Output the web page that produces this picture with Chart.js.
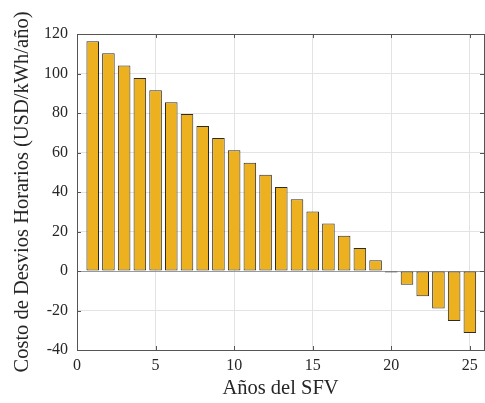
<!DOCTYPE html>
<html>
<head>
<meta charset="utf-8">
<script src="https://cdn.jsdelivr.net/npm/chart.js@4/dist/chart.umd.min.js"></script>
<style>
  html, body { margin: 0; padding: 0; background: #fff; }
  #wrap { width: 485px; height: 403px; }
</style>
</head>
<body>
<div id="wrap"><canvas id="myChart" width="485" height="403"></canvas></div>
<script>
const years = [1, 2, 3, 4, 5, 6, 7, 8, 9, 10, 11, 12, 13, 14, 15, 16, 17, 18, 19, 20, 21, 22, 23, 24, 25];
const costs = [116.3, 110.2, 104, 97.7, 91.5, 85.4, 79.5, 73.4, 67.3, 61.1, 54.8, 48.7, 42.5,
               36.3, 30.1, 24, 17.8, 11.7, 5.5, -0.8, -7, -12.8, -19, -25.3, -31.4];
const xTicks = [0, 5, 10, 15, 20, 25];
const yTicks = [-40, -20, 0, 20, 40, 60, 80, 100, 120];

const serif = "'Liberation Serif', 'Times New Roman', serif";
const textColor = '#262626';

// MATLAB-like box with inward ticks
const boxPlugin = {
    id: 'box',
    afterDatasetsDraw(chart) {
        const {ctx, chartArea: a, scales: {x, y}} = chart;
        ctx.save();
        ctx.strokeStyle = '#555';
        ctx.lineWidth = 1;
        ctx.beginPath();
        xTicks.forEach(v => {
            const px = Math.round(x.getPixelForValue(v)) + 0.5;
            ctx.moveTo(px, a.bottom); ctx.lineTo(px, a.bottom - 4);
            ctx.moveTo(px, a.top); ctx.lineTo(px, a.top + 4);
        });
        yTicks.forEach(v => {
            const py = Math.round(y.getPixelForValue(v)) + 0.5;
            ctx.moveTo(a.left, py); ctx.lineTo(a.left + 4, py);
            ctx.moveTo(a.right, py); ctx.lineTo(a.right - 4, py);
        });
        ctx.stroke();
        ctx.strokeRect(Math.round(a.left) + 0.5, Math.round(a.top) + 0.5,
                       Math.round(a.right - a.left), Math.round(a.bottom - a.top));
        ctx.restore();
    }
};

const ctx = document.getElementById('myChart').getContext('2d');

new Chart(ctx, {
    type: 'bar',
    data: {
        datasets: [{
            data: years.map((v, i) => ({x: v, y: costs[i]})),
            backgroundColor: '#EDB120',
            borderColor: '#2b2b2b',
            borderWidth: 1,
            borderSkipped: false,
            barPercentage: 0.8,
            categoryPercentage: 1.0
        }]
    },
    options: {
        responsive: false,
        animation: false,
        layout: { padding: { top: 34, right: 1, left: 0, bottom: 0 } },
        plugins: {
            legend: { display: false },
            tooltip: { enabled: false }
        },
        scales: {
            x: {
                type: 'linear',
                offset: false,
                min: 0,
                max: 25.9,
                afterFit(scale) { scale.height = 53; },
                afterBuildTicks(scale) { scale.ticks = xTicks.map(v => ({value: v})); },
                grid: { color: '#e3e3e3', drawTicks: false, offset: false },
                border: { display: false },
                ticks: { color: textColor, padding: 6, font: { family: serif, size: 16 } },
                title: {
                    display: true,
                    text: 'Años del SFV',
                    color: textColor,
                    font: { family: serif, size: 20.5 },
                    padding: { top: 0, bottom: 2 }
                }
            },
            y: {
                min: -40,
                max: 120,
                afterFit(scale) { scale.width = 77; },
                afterBuildTicks(scale) { scale.ticks = yTicks.map(v => ({value: v})); },
                grid: {
                    color: c => c.tick && c.tick.value === 0 ? '#9a9a9a' : '#e3e3e3',
                    drawTicks: false
                },
                border: { display: false },
                ticks: { color: textColor, padding: 9, font: { family: serif, size: 16 } },
                title: {
                    display: true,
                    text: 'Costo de Desvios Horarios (USD/kWh/año)',
                    color: textColor,
                    font: { family: serif, size: 20.5 },
                    padding: { top: 10, bottom: 0 }
                }
            }
        }
    },
    plugins: [boxPlugin]
});
</script>
</body>
</html>
